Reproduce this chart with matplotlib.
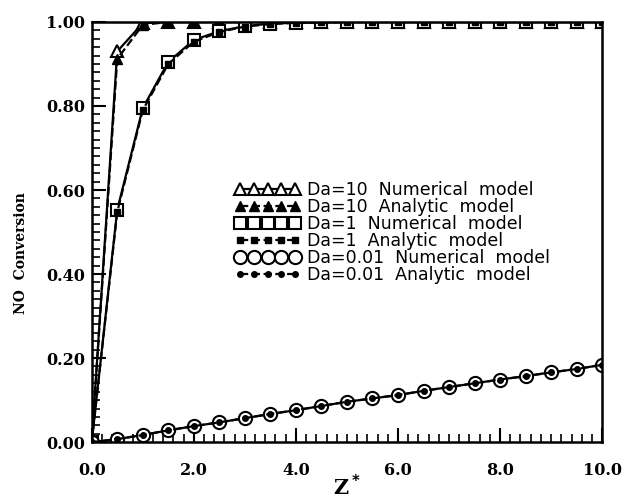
import numpy as np
from matplotlib import pyplot as plt
from matplotlib.ticker import MultipleLocator, FormatStrFormatter

# axial position Z*
z = [0.0, 0.5, 1.0, 1.5, 2.0, 2.5, 3.0, 3.5, 4.0, 4.5, 5.0,
     5.5, 6.0, 6.5, 7.0, 7.5, 8.0, 8.5, 9.0, 9.5, 10.0]

# Da=10
da10_num = [0.0, 0.930, 0.997, 1.0, 1.0, 1.0, 1.0, 1.0, 1.0, 1.0, 1.0,
            1.0, 1.0, 1.0, 1.0, 1.0, 1.0, 1.0, 1.0, 1.0, 1.0]
da10_ana = [0.0, 0.912, 0.993, 1.0, 1.0, 1.0, 1.0, 1.0, 1.0, 1.0, 1.0,
            1.0, 1.0, 1.0, 1.0, 1.0, 1.0, 1.0, 1.0, 1.0, 1.0]
# Da=1
da1_num = [0.0, 0.553, 0.795, 0.905, 0.957, 0.978, 0.990, 0.996, 0.998, 0.999, 1.0,
           1.0, 1.0, 1.0, 1.0, 1.0, 1.0, 1.0, 1.0, 1.0, 1.0]
da1_ana = [0.0, 0.548, 0.790, 0.900, 0.953, 0.976, 0.989, 0.995, 0.998, 0.999, 1.0,
           1.0, 1.0, 1.0, 1.0, 1.0, 1.0, 1.0, 1.0, 1.0, 1.0]
# Da=0.01
da001_num = [0.0, 0.007, 0.017, 0.028, 0.038, 0.047, 0.057, 0.067, 0.076, 0.086, 0.096,
             0.104, 0.112, 0.122, 0.131, 0.140, 0.149, 0.157, 0.166, 0.174, 0.184]
da001_ana = [0.0, 0.007, 0.017, 0.028, 0.038, 0.047, 0.057, 0.067, 0.076, 0.086, 0.096,
             0.104, 0.112, 0.122, 0.131, 0.140, 0.149, 0.157, 0.166, 0.174, 0.184]

labels = ['Da=10  Numerical  model', 'Da=10  Analytic  model',
          'Da=1  Numerical  model', 'Da=1  Analytic  model',
          'Da=0.01  Numerical  model', 'Da=0.01  Analytic  model']

fig = plt.figure(figsize=(6.24, 4.99), dpi=100)
ax = fig.add_axes([0.147, 0.114, 0.818, 0.842])

ax.plot(z, da10_num, '-', color='k', lw=1.6, marker='^', ms=9, mfc='white', mec='k', mew=1.5, label=labels[0])
ax.plot(z, da10_ana, '--', color='k', lw=1.6, marker='^', ms=6.5, mfc='k', mec='k', label=labels[1])
ax.plot(z, da1_num, '-', color='k', lw=1.6, marker='s', ms=8, mfc='white', mec='k', mew=1.5, label=labels[2])
ax.plot(z, da1_ana, '--', color='k', lw=1.6, marker='s', ms=5, mfc='k', mec='k', label=labels[3])
ax.plot(z, da001_num, '-', color='k', lw=1.6, marker='o', ms=9.5, mfc='white', mec='k', mew=1.5, label=labels[4])
ax.plot(z, da001_ana, '--', color='k', lw=1.6, marker='o', ms=4, mfc='k', mec='k', label=labels[5])

ax.set_xlim(0, 10)
ax.set_ylim(0, 1)
ax.xaxis.set_major_locator(MultipleLocator(2.0))
ax.xaxis.set_minor_locator(MultipleLocator(0.2))
ax.yaxis.set_major_locator(MultipleLocator(0.2))
ax.yaxis.set_minor_locator(MultipleLocator(0.02))
ax.xaxis.set_major_formatter(FormatStrFormatter('%.1f'))
ax.yaxis.set_major_formatter(FormatStrFormatter('%.2f'))
ax.tick_params(which='both', direction='in', top=False, right=False)
ax.tick_params(which='major', length=10, width=1.5)
ax.tick_params(which='minor', length=6, width=1.2)
ax.tick_params(axis='x', which='major', pad=14)
ax.tick_params(axis='y', which='major', pad=5)
for lab in ax.get_xticklabels() + ax.get_yticklabels():
    lab.set_family('DejaVu Serif')
    lab.set_fontweight('bold')
    lab.set_fontsize(11.5)
for s in ax.spines.values():
    s.set_linewidth(1.8)

ax.set_xlabel('Z$^{\\bf *}$', family='DejaVu Serif', fontweight='bold', fontsize=15, labelpad=-3)
ax.set_ylabel('NO  Conversion', family='DejaVu Serif', fontweight='bold', fontsize=10)
ax.yaxis.set_label_coords(-0.125, 0.45)

leg = ax.legend(loc='upper left', bbox_to_anchor=(0.362, 0.655), bbox_transform=fig.transFigure,
                frameon=False, numpoints=5, handlelength=3.8, handletextpad=0.4,
                labelspacing=-0.06, borderpad=0, prop={'family': 'DejaVu Sans', 'size': 12.5})

fig.savefig('out.png', dpi=100)
